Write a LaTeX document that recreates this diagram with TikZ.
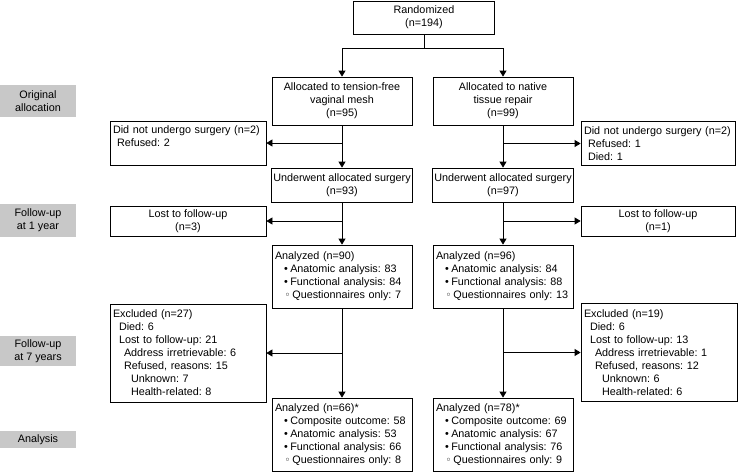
\documentclass[tikz,border=0pt]{standalone}
\usepackage{fontspec}
\setmainfont{Liberation Sans}
\newfontfamily\symfont{DejaVu Sans}
\usepackage{xcolor}
\usepackage{tikz}
\usetikzlibrary{positioning, arrows.meta}
\definecolor{stagegray}{RGB}{200,200,200}
\newcommand{\bul}{\hspace*{9pt}\textbullet\hspace{2.5pt}}
\newcommand{\obul}{\hspace*{9.5pt}{\symfont\fontsize{10}{10}\selectfont ◦}\hspace{2pt}}
\frenchspacing

\begin{document}
\begin{tikzpicture}[x=1pt,y=-1pt,line width=0.8pt,font=\fontsize{10.8}{13}\selectfont,
	>={Triangle[width=7pt,length=6pt]},
	lbox/.style={box,align=left,inner xsep=3pt,text width=#1}]
					\tikzstyle{box}=[draw=black,inner xsep=1.5pt,inner ysep=2pt]
					\tikzstyle{cbox}=[box,align=center]
					\tikzstyle{stage}=[fill=stagegray,minimum width=76pt,align=center,inner sep=0pt]
					\useasboundingbox (0,0) rectangle (739,474);
					\node[stage,minimum height=32pt](orig) at (38,101){Original\\allocation};
					\node[stage,minimum height=33pt](fu1) at (38,220.5){Follow-up\\at 1 year};
					\node[stage,minimum height=30pt](fu7) at (38,351){Follow-up\\at 7 years};
					\node[stage,minimum height=17pt](ana) at (38,439.5){Analysis};
					\node[cbox,minimum width=141pt,minimum height=33pt](rand) at (424,17.5){Randomized\\(n=194)};
					\node[cbox,minimum width=140pt,minimum height=48pt](allocL) at (342,101){Allocated to tension-free\\vaginal mesh\\(n=95)};
					\node[cbox,minimum width=140pt,minimum height=48pt](allocR) at (503,101){Allocated to native\\tissue repair\\(n=99)};
					\node[lbox=150pt,minimum height=44pt](dnsL) at (188,143){Did not undergo surgery (n=2)\\\hspace*{4pt}Refused: 2\\\mbox{}};
					\node[lbox=148pt,minimum height=44pt](dnsR) at (658,143.5){Did not undergo surgery (n=2)\\\hspace*{4pt}Refused: 1\\\hspace*{4pt}Died: 1};
					\node[cbox,minimum width=140pt,minimum height=34pt](underL) at (342,185){Underwent allocated surgery\\(n=93)};
					\node[cbox,minimum width=140pt,minimum height=34pt](underR) at (503,185){Underwent allocated surgery\\(n=97)};
					\node[cbox,minimum width=156pt,minimum height=30pt](lostL) at (188,221){Lost to follow-up\\(n=3)};
					\node[cbox,minimum width=154pt,minimum height=30pt](lostR) at (658,221){Lost to follow-up\\(n=1)};
					\node[lbox=134pt,minimum height=63pt](anaL) at (342,276.5){Analyzed (n=90)\\\bul Anatomic analysis: 83\\\bul Functional analysis: 84\\\obul Questionnaires only: 7};
					\node[lbox=134pt,minimum height=63pt](anaR) at (503,276.5){Analyzed (n=96)\\\bul Anatomic analysis: 84\\\bul Functional analysis: 88\\\obul Questionnaires only: 13};
					\node[lbox=150pt,minimum height=98pt](excL) at (188,353){Excluded (n=27)\\\hspace*{6pt}Died: 6\\\hspace*{6pt}Lost to follow-up: 21\\\hspace*{11pt}Address irretrievable: 6\\\hspace*{11pt}Refused, reasons: 15\\\hspace*{18pt}Unknown: 7\\\hspace*{18pt}Health-related: 8};
					\node[lbox=150pt,minimum height=98pt](excR) at (659,352.5){Excluded (n=19)\\\hspace*{6pt}Died: 6\\\hspace*{6pt}Lost to follow-up: 13\\\hspace*{11pt}Address irretrievable: 1\\\hspace*{11pt}Refused, reasons: 12\\\hspace*{18pt}Unknown: 6\\\hspace*{18pt}Health-related: 6};
					\node[lbox=134pt,minimum height=73pt](finL) at (342,434.5){Analyzed (n=66)*\\\bul Composite outcome: 58\\\bul Anatomic analysis: 53\\\bul Functional analysis: 66\\\obul Questionnaires only: 8};
					\node[lbox=134pt,minimum height=73pt](finR) at (503,434.5){Analyzed (n=78)*\\\bul Composite outcome: 69\\\bul Anatomic analysis: 67\\\bul Functional analysis: 76\\\obul Questionnaires only: 9};
					\coordinate (split) at (424,48);
					\draw (rand) -- (split);
					\draw[->] (split) -| (allocL);
					\draw[->] (split) -| (allocR);
					\path[->]
						(allocL) edge (underL)
						(underL) edge (anaL)
						(anaL) edge (finL)
						(allocR) edge (underR)
						(underR) edge (anaR)
						(anaR) edge (finR)
						(allocL |- dnsL) edge (dnsL)
						(underL |- lostL) edge (lostL)
						(anaL |- excL) edge (excL)
						(allocR |- dnsR) edge (dnsR)
						(underR |- lostR) edge (lostR)
						(anaR |- excR) edge (excR);
				\end{tikzpicture}
\end{document}
